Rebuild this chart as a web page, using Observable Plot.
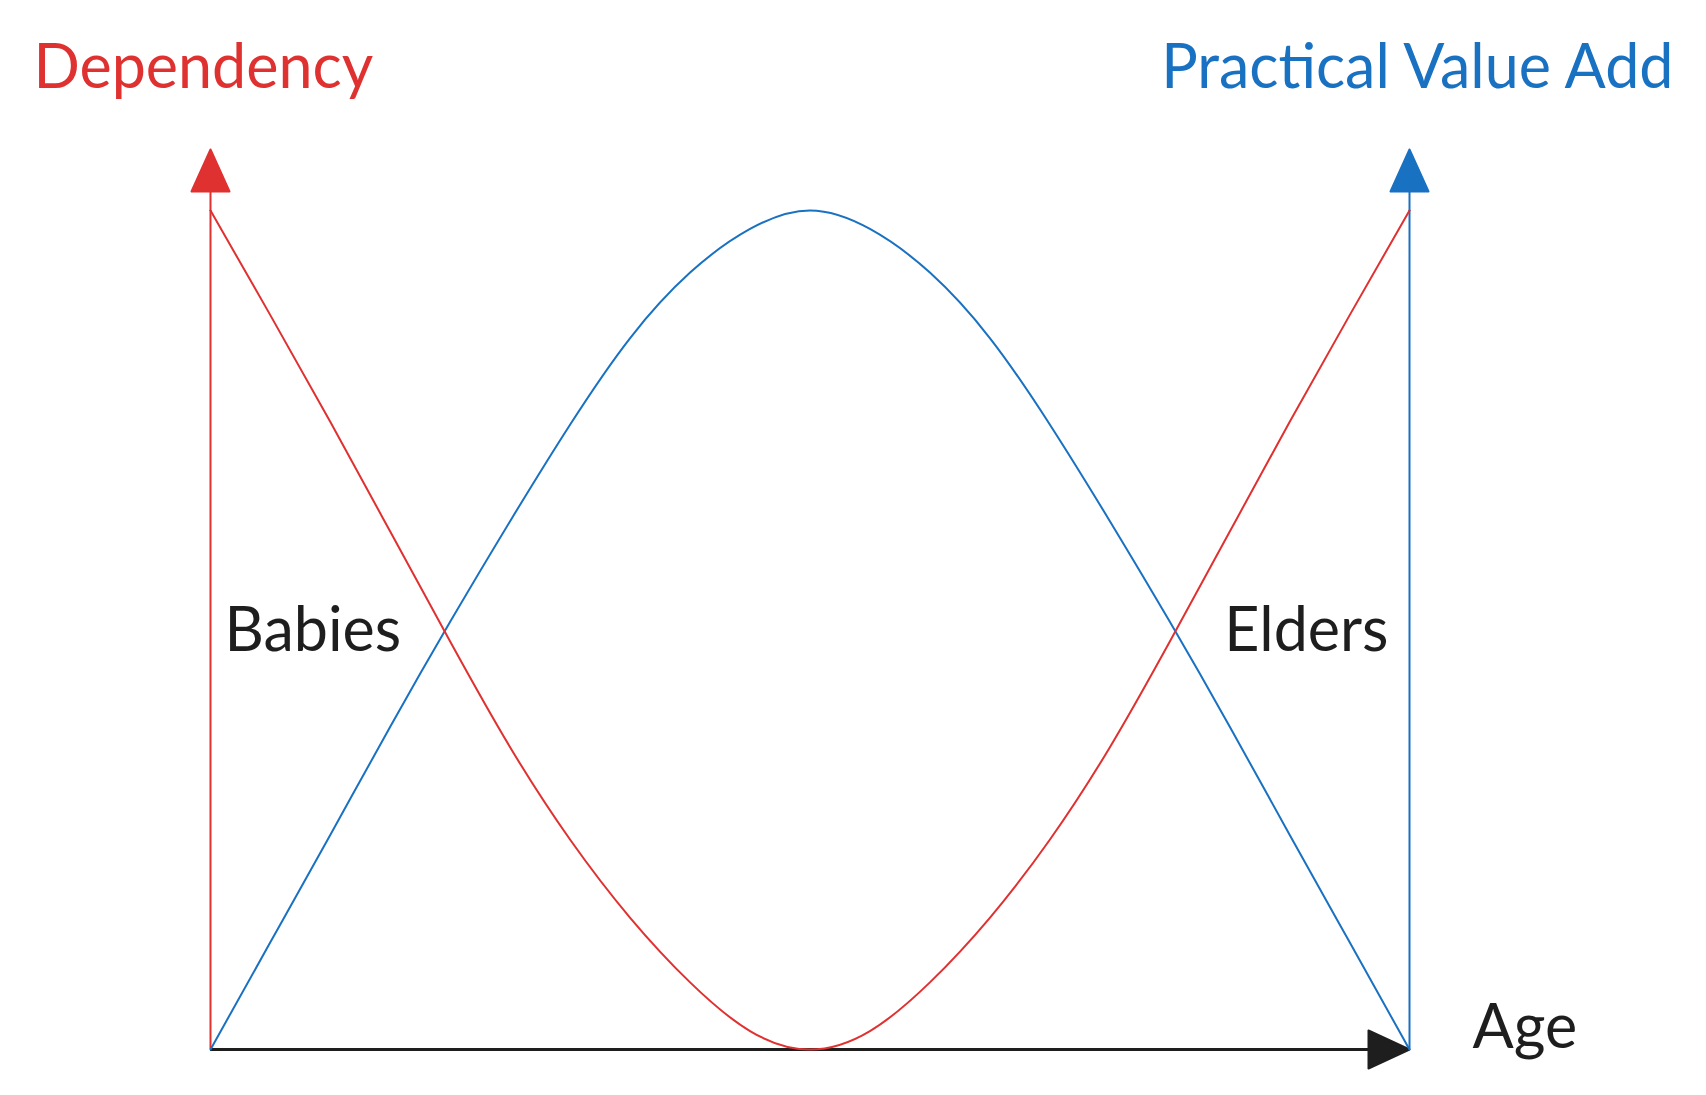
<!DOCTYPE html>
<html>
<head>
<meta charset="utf-8">
<script src="https://cdn.jsdelivr.net/npm/d3@7"></script>
<script src="https://cdn.jsdelivr.net/npm/@observablehq/plot@0.6"></script>
<style>
  html, body { margin: 0; padding: 0; background: #ffffff; }
  #chart svg { display: block; }
</style>
</head>
<body>
<div id="chart"></div>
<script>
// ---- data (age in % of the span, values 0..1) ----
const ages       = [0, 5, 10, 15, 20, 25, 30, 35, 40, 45, 50, 55, 60, 65, 70, 75, 80, 85, 90, 95, 100];
const dependency = [1, 0.875, 0.748, 0.617, 0.486, 0.36, 0.25, 0.157, 0.08, 0.022, 0, 0.022, 0.08, 0.157, 0.25, 0.36, 0.486, 0.617, 0.748, 0.875, 1];
const practical  = [0, 0.128, 0.256, 0.385, 0.51, 0.63, 0.745, 0.848, 0.926, 0.978, 1, 0.978, 0.926, 0.848, 0.745, 0.63, 0.51, 0.385, 0.256, 0.128, 0];

const leftTitle  = ["Dependency"];
const rightTitle = ["Practical Value Add"];
const xTitle     = ["Age"];
const leftLabel  = ["Babies"];
const rightLabel = ["Elders"];

// ---- styles ----
const RED = "#e03131", BLUE = "#1971c2", INK = "#1e1e1e";
const FONT = "Lato, 'Open Sans', sans-serif";

const rows = ages.map((a, i) => ({age: a, dependency: dependency[i], practical: practical[i]}));
const xMin = d3.min(ages), xMax = d3.max(ages);
const yTop = d3.max(dependency), yBottom = d3.min(dependency);

// arrow shapes for Plot.vector (drawn pointing "up", length l)
const headWithStem = {
  draw(ctx, l) {
    const stem = 19, half = 19;
    ctx.moveTo(0, 0); ctx.lineTo(0, -stem);
    ctx.moveTo(-half, -stem); ctx.lineTo(half, -stem); ctx.lineTo(0, -l); ctx.closePath();
  }
};
const head = {
  draw(ctx, l) {
    const half = 19;
    ctx.moveTo(-half, 0); ctx.lineTo(half, 0); ctx.lineTo(0, -l); ctx.closePath();
  }
};

const textBase = {text: d => d, fontSize: 61, fontFamily: FONT, lineAnchor: "bottom"};

const chart = Plot.plot({
  width: 1706,
  height: 1095,
  marginLeft: 210,
  marginRight: 297,
  marginTop: 210,
  marginBottom: 46,
  x: {domain: [xMin, xMax], axis: null},
  y: {domain: [yBottom, yTop], axis: null},
  style: {background: "#ffffff", overflow: "visible"},
  marks: [
    // horizontal Age axis
    Plot.ruleY([yBottom], {x1: xMin, x2: xMax, stroke: INK, strokeWidth: 3}),
    Plot.vector([xMax], {x: d => d, y: [yBottom], rotate: 90, anchor: "end", length: 41, shape: head,
      stroke: INK, fill: INK, strokeWidth: 2, strokeLinejoin: "round"}),
    // left (Dependency) axis
    Plot.ruleX([xMin], {y1: yBottom, y2: yTop, stroke: RED, strokeWidth: 2}),
    Plot.vector([xMin], {x: d => d, y: [yTop], anchor: "start", length: 61, shape: headWithStem,
      stroke: RED, fill: RED, strokeWidth: 2, strokeLinejoin: "round"}),
    // right (Practical Value Add) axis
    Plot.ruleX([xMax], {y1: yBottom, y2: yTop, stroke: BLUE, strokeWidth: 2}),
    Plot.vector([xMax], {x: d => d, y: [yTop], anchor: "start", length: 61, shape: headWithStem,
      stroke: BLUE, fill: BLUE, strokeWidth: 2, strokeLinejoin: "round"}),
    // curves
    Plot.line(rows, {x: "age", y: "practical", curve: "natural", stroke: BLUE, strokeWidth: 2}),
    Plot.line(rows, {x: "age", y: "dependency", curve: "natural", stroke: RED, strokeWidth: 2}),
    // titles & labels
    Plot.text(leftTitle,  {...textBase, frameAnchor: "top-left",  textAnchor: "start", dx: -177, dy: -123, fill: RED}),
    Plot.text(rightTitle, {...textBase, frameAnchor: "top-right", textAnchor: "end",   dx: 264,  dy: -123, fill: BLUE}),
    Plot.text(xTitle,     {...textBase, frameAnchor: "bottom-right", textAnchor: "start", dx: 63, dy: -2, fill: INK}),
    Plot.text(leftLabel,  {...textBase, frameAnchor: "left",  textAnchor: "start", dx: 14,  dy: 21, fill: INK}),
    Plot.text(rightLabel, {...textBase, frameAnchor: "right", textAnchor: "end",   dx: -21, dy: 21, fill: INK})
  ]
});

document.getElementById("chart").appendChild(chart);
</script>
</body>
</html>
